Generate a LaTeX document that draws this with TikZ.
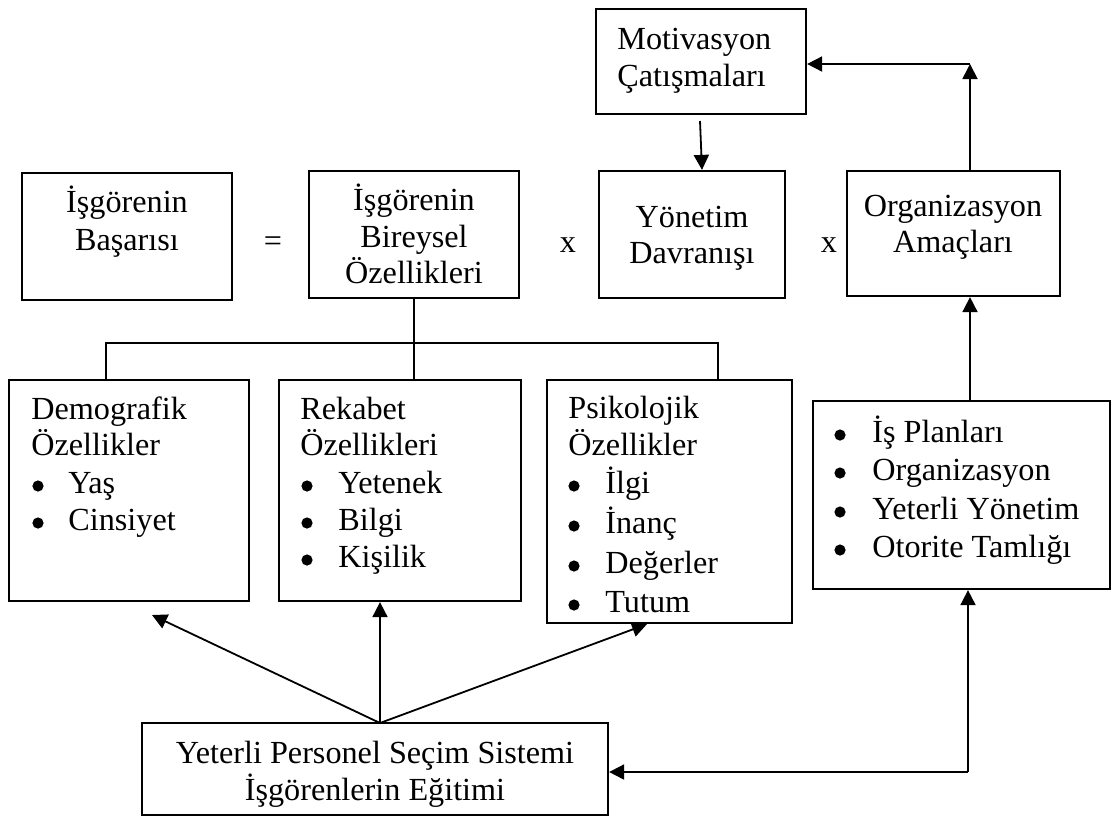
\documentclass[tikz,border=0pt]{standalone}
\usepackage{fontspec}
\setmainfont{Liberation Serif}
\usetikzlibrary{arrows.meta,fit,calc}
\begin{document}
\begin{tikzpicture}[x=0.5pt,y=-0.5pt,
  box/.style={draw,line width=1.1pt,inner sep=0pt,rectangle},
  txt/.style={inner sep=0pt,font=\fontsize{16.1}{18.5}\selectfont},
  lt/.style={txt,anchor=base west},
  ct/.style={txt,anchor=base},
  bul/.style={circle,fill,inner sep=0pt,minimum size=5.6pt},
  conn/.style={line width=0.9pt},
  arr/.style={conn,-{Triangle[length=7.5pt,width=7.5pt]}}]
\useasboundingbox (0,0) rectangle (1117,816);

% ---------- boxes ----------
\node[box,fit={(22,173) (232,300)}] (basari) {};
\node[box,fit={(309,171) (519,298)}] (bireysel) {};
\node[box,fit={(596,9) (806,114)}] (motiv) {};
\node[box,fit={(599,171) (785,298)}] (yonetim) {};
\node[box,fit={(847,171) (1060,296)}] (org) {};
\node[box,fit={(9,380) (249,601)}] (demo) {};
\node[box,fit={(279,380) (521,601)}] (rekabet) {};
\node[box,fit={(547,380) (792,623)}] (psiko) {};
\node[box,fit={(813,401) (1110,589)}] (plan) {};
\node[box,fit={(142,723) (608,815)}] (egitim) {};

% ---------- texts in top row ----------
\node[ct] (tb1) at (127,212) {İşgörenin};
\node[ct] (tb2) at (127,250) {Başarısı};
\node[ct] (eq) at (273,251) {=};
\node[ct] (ti1) at (414,210) {İşgörenin};
\node[ct] (ti2) at (414,247) {Bireysel};
\node[ct] (ti3) at (414,283) {Özellikleri};
\node[ct] (x1) at (568,252) {x};
\node[ct] (ty1) at (692,227) {Yönetim};
\node[ct] (ty2) at (692,263) {Davranışı};
\node[ct] (x2) at (829,252) {x};
\node[ct] (to1) at (953,216) {Organizasyon};
\node[ct] (to2) at (953,252) {Amaçları};
\node[lt] (tm1) at (617,49) {Motivasyon};
\node[lt] (tm2) at (617,86) {Çatışmaları};

% ---------- Demografik ----------
\node[lt] (td1) at (31,419) {Demografik};
\node[lt] (td2) at (31,455) {Özellikler};
\node[bul] (bd1) at (38,486) {};
\node[lt] (td3) at (68,493) {Yaş};
\node[bul] (bd2) at (38,523) {};
\node[lt] (td4) at (68,530) {Cinsiyet};

% ---------- Rekabet ----------
\node[lt] (tr1) at (300,419) {Rekabet};
\node[lt] (tr2) at (300,455) {Özellikleri};
\node[bul] (br1) at (307,486) {};
\node[lt] (tr3) at (338,493) {Yetenek};
\node[bul] (br2) at (307,523) {};
\node[lt] (tr4) at (338,530) {Bilgi};
\node[bul] (br3) at (307,560) {};
\node[lt] (tr5) at (338,567) {Kişilik};

% ---------- Psikolojik ----------
\node[lt] (tp1) at (568,418) {Psikolojik};
\node[lt] (tp2) at (568,455) {Özellikler};
\node[bul] (bp1) at (574,486) {};
\node[lt] (tp3) at (605,493) {İlgi};
\node[bul] (bp2) at (574,526) {};
\node[lt] (tp4) at (605,533) {İnanç};
\node[bul] (bp3) at (574,566) {};
\node[lt] (tp5) at (605,573) {Değerler};
\node[bul] (bp4) at (574,605) {};
\node[lt] (tp6) at (605,612) {Tutum};

% ---------- Plan box ----------
\node[bul] (bq1) at (840,435) {};
\node[lt] (tq1) at (872,442) {İş Planları};
\node[bul] (bq2) at (840,473) {};
\node[lt] (tq2) at (872,480) {Organizasyon};
\node[bul] (bq3) at (840,512) {};
\node[lt] (tq3) at (872,519) {Yeterli Yönetim};
\node[bul] (bq4) at (840,550) {};
\node[lt] (tq4) at (872,557) {Otorite Tamlığı};

% ---------- bottom box ----------
\node[ct] (te1) at (375,763) {Yeterli Personel Seçim Sistemi};
\node[ct] (te2) at (375,800) {İşgörenlerin Eğitimi};

% ---------- connectors ----------
\coordinate (jl) at (106,343);
\coordinate (jr) at (718,343);
\draw[conn] (bireysel.south) -- (bireysel.south |- rekabet.north);
\draw[conn] (demo.north -| jl) -- (jl) -- (jr) -- (psiko.north -| jr);

\coordinate (ms) at (700,121);
\coordinate (me) at (702,171);
\draw[arr] (ms) -- (yonetim.north -| me);

\coordinate (c1) at (970,64);
\draw[arr] (org.north -| c1) -- (c1);
\draw[arr] (c1) -- (motiv.east |- c1);
\draw[arr] (plan.north -| c1) -- (org.south -| c1);

\coordinate (e0) at (380,723);
\coordinate (dtip) at (152,615);
\coordinate (ptip) at (647,623);
\draw[arr] (e0) -- (dtip);
\draw[arr] (e0) -- (rekabet.south -| e0);
\draw[arr] (e0) -- (psiko.south -| ptip);

\coordinate (c2) at (968,772);
\draw[arr] (c2) -- (plan.south -| c2);
\draw[arr] (c2) -- (egitim.east |- c2);
\end{tikzpicture}
\end{document}
